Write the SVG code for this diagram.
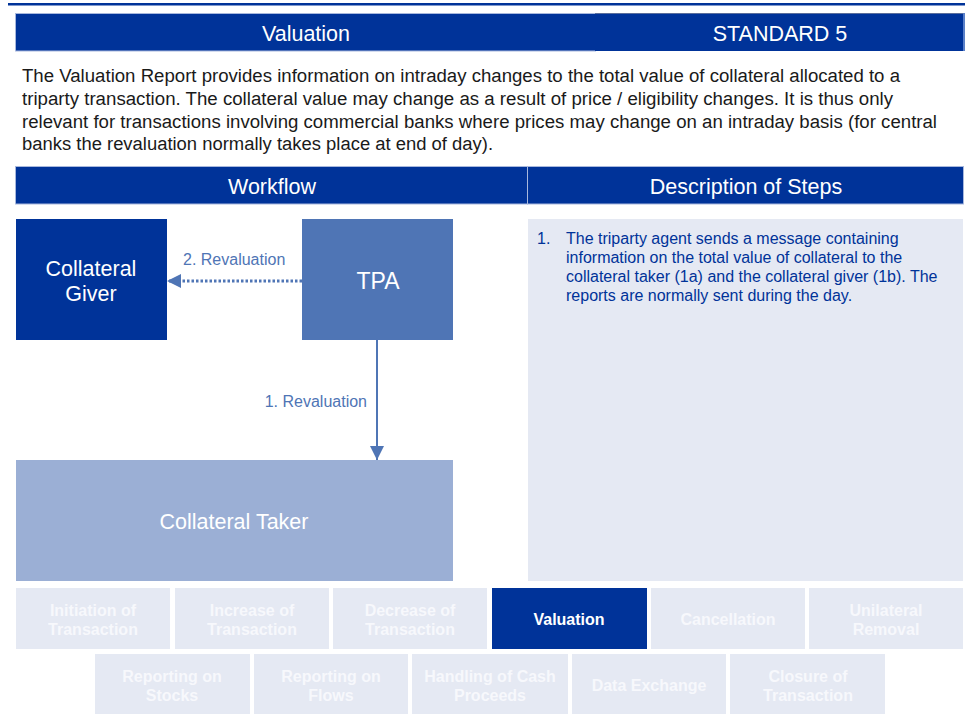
<svg xmlns="http://www.w3.org/2000/svg" width="965" height="724" viewBox="0 0 965 724">
<style>
text{font-family:"Liberation Sans",Arial,sans-serif}
.hdr{fill:#003399}
.ht{fill:#ffffff;font-size:21.5px;text-anchor:middle}
.para{fill:#1a1a1a;font-size:18px}
.desc{fill:#003399;font-size:16px}
.lbl{fill:#4f75b5;font-size:16px}
.tab{fill:#e5e9f3}
.tt{fill:#f7f8fc;font-size:16px;font-weight:bold;text-anchor:middle}
.nt{fill:#ffffff;font-size:21.5px;text-anchor:middle}
</style>
<defs>
<marker id="ah" markerWidth="14" markerHeight="14" refX="14" refY="7" orient="auto" markerUnits="userSpaceOnUse">
<path d="M0,0 L14,7 L0,14 Z" fill="#4f75b5"/>
</marker>
</defs>
<rect x="0" y="0" width="965" height="724" fill="#ffffff"/>
<rect x="8" y="3" width="957" height="2.5" fill="#003399"/>
<g id="header">
<rect x="15.5" y="13.5" width="580" height="37.5" class="hdr" stroke="#a8b8dd" stroke-width="1"/>
<rect x="595" y="13" width="368" height="38" class="hdr"/>
<line x1="595" y1="13.5" x2="963" y2="13.5" stroke="#5a6e9c" stroke-width="1"/>
<rect x="963" y="13" width="2" height="38" fill="#5a80c8"/>
<text x="306" y="41" class="ht">Valuation</text>
<text x="780" y="41" class="ht">STANDARD 5</text>
</g>
<g id="intro">
<text x="22" y="82" class="para" textLength="878" lengthAdjust="spacingAndGlyphs">The Valuation Report provides information on intraday changes to the total value of collateral allocated to a</text>
<text x="22" y="105" class="para" textLength="871" lengthAdjust="spacingAndGlyphs">triparty transaction. The collateral value may change as a result of price / eligibility changes. It is thus only</text>
<text x="22" y="127.5" class="para" textLength="915" lengthAdjust="spacingAndGlyphs">relevant for transactions involving commercial banks where prices may change on an intraday basis (for central</text>
<text x="22" y="150" class="para" textLength="471" lengthAdjust="spacingAndGlyphs">banks the revaluation normally takes place at end of day).</text>
</g>
<g id="section-headers">
<rect x="15.5" y="166.5" width="512" height="37.5" class="hdr" stroke="#a8b8dd" stroke-width="1"/>
<rect x="527.5" y="166.5" width="436" height="37.5" class="hdr" stroke="#a8b8dd" stroke-width="1"/>
<text x="272" y="194" class="ht">Workflow</text>
<text x="746" y="194" class="ht">Description of Steps</text>
</g>
<g id="collateral-giver">
<rect x="16" y="219" width="151" height="121" fill="#003399"/>
<text x="91" y="276" class="nt">Collateral</text>
<text x="91" y="301" class="nt">Giver</text>
</g>
<g id="tpa">
<rect x="302" y="219" width="151" height="121" fill="#4f75b5"/>
<text x="378" y="289" class="nt" style="font-size:23px">TPA</text>
</g>
<g id="collateral-taker">
<rect x="16" y="460" width="437" height="121" fill="#9bafd5"/>
<text x="234" y="529" class="nt">Collateral Taker</text>
</g>
<g id="connectors">
<line x1="302" y1="281" x2="167" y2="281" stroke="#4f75b5" stroke-width="3" stroke-dasharray="2.5 2" marker-end="url(#ah)"/>
<line x1="377" y1="340" x2="377" y2="460" stroke="#4f75b5" stroke-width="2" marker-end="url(#ah)"/>
<text x="183" y="265" class="lbl">2. Revaluation</text>
<text x="367" y="407" class="lbl" text-anchor="end">1. Revaluation</text>
</g>
<g id="description">
<rect x="528" y="219" width="435" height="362" fill="#e5e9f3"/>
<text x="537" y="244" class="desc">1.</text>
<text x="566" y="244" class="desc">The triparty agent sends a message containing</text>
<text x="566" y="263" class="desc">information on the total value of collateral to the</text>
<text x="566" y="282" class="desc">collateral taker (1a) and the collateral giver (1b). The</text>
<text x="566" y="301" class="desc">reports are normally sent during the day.</text>
</g>
<g id="tabs">
<rect x="16" y="588" width="154" height="61" class="tab"/>
<text x="93" y="616" class="tt">Initiation of</text><text x="93" y="635" class="tt">Transaction</text>
<rect x="175" y="588" width="154" height="61" class="tab"/>
<text x="252" y="616" class="tt">Increase of</text><text x="252" y="635" class="tt">Transaction</text>
<rect x="333" y="588" width="154" height="61" class="tab"/>
<text x="410" y="616" class="tt">Decrease of</text><text x="410" y="635" class="tt">Transaction</text>
<rect x="492" y="588" width="155" height="61" fill="#003399"/>
<text x="569" y="625" class="tt" style="fill:#ffffff">Valuation</text>
<rect x="651" y="588" width="154" height="61" class="tab"/>
<text x="728" y="625" class="tt">Cancellation</text>
<rect x="809" y="588" width="154" height="61" class="tab"/>
<text x="886" y="616" class="tt">Unilateral</text><text x="886" y="635" class="tt">Removal</text>
<rect x="95" y="654" width="155" height="60" class="tab"/>
<text x="172" y="682" class="tt">Reporting on</text><text x="172" y="701" class="tt">Stocks</text>
<rect x="254" y="654" width="154" height="60" class="tab"/>
<text x="331" y="682" class="tt">Reporting on</text><text x="331" y="701" class="tt">Flows</text>
<rect x="412" y="654" width="156" height="60" class="tab"/>
<text x="490" y="682" class="tt">Handling of Cash</text><text x="490" y="701" class="tt">Proceeds</text>
<rect x="572" y="654" width="154" height="60" class="tab"/>
<text x="649" y="691" class="tt">Data Exchange</text>
<rect x="730" y="654" width="155" height="60" class="tab"/>
<text x="808" y="682" class="tt">Closure of</text><text x="808" y="701" class="tt">Transaction</text>
</g>
</svg>
